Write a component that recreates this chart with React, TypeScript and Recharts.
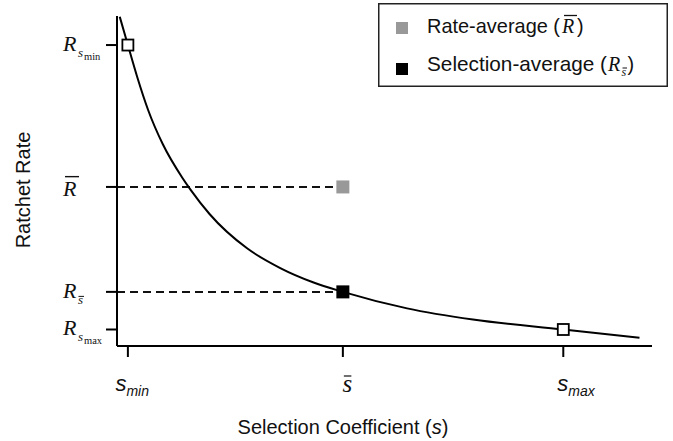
import React from 'react';
import { ComposedChart, Line, Scatter, XAxis, YAxis, ReferenceLine, Legend } from 'recharts';

// Curve: selection coefficient s vs ratchet rate R (arbitrary units)
const curveS = [1.85, 2.0, 2.17, 2.37, 2.64, 3.0, 3.15, 3.5, 4.19, 4.8, 5.4, 5.95, 7.13, 8.34, 10.0, 11.4];
const curveR = [99.8, 91.2, 81.6, 71.6, 61.2, 51.0, 47.4, 40.0, 29.6, 23.6, 19.3, 16.4, 11.4, 8.0, 5.0, 2.5];

// Marker positions: s_min, s̄, s_max
const sMarks = [2.0, 5.95, 10.0];
// R_smin, R̄, R_s̄, R_smax
const rMarks = [91.2, 48.2, 16.4, 5.0];

const xTickValues = [2.0, 5.95, 10.0];
const xTickLabels = ['min', 'bar', 'max'];
const yTickValues = [5.0, 16.4, 48.2, 91.2];
const yTickLabels = ['max', 'sbar', 'bar', 'min'];

const xDomain = [1.8, 11.63];
const yDomain = [0, 100];

const curveData = curveS.map((s, i) => ({ s, R: curveR[i] }));
const openData = [
  { s: sMarks[0], R: rMarks[0] },
  { s: sMarks[2], R: rMarks[3] },
];
const rateAvgData = [{ s: sMarks[1], R: rMarks[1] }];
const selAvgData = [{ s: sMarks[1], R: rMarks[2] }];

const SANS = '"Liberation Sans", Arial, Helvetica, sans-serif';
const SERIF = '"Liberation Serif", "Times New Roman", serif';
const INK = '#111';

const RGlyph = ({ x, y }: any) => (
  <text x={x} y={y} fontFamily={SERIF} fontStyle="italic" fontSize={22} fill={INK}>R</text>
);

const YTick = (props: any) => {
  const { x, y, payload } = props;
  const kind = yTickLabels[yTickValues.indexOf(payload.value)];
  const x0 = x - 41;
  if (kind === 'bar') {
    return (
      <g>
        <RGlyph x={x0} y={y + 9.5} />
        <line x1={x0 + 2} x2={x0 + 16} y1={y - 10.3} y2={y - 10.3} stroke={INK} strokeWidth={1.4} />
      </g>
    );
  }
  if (kind === 'sbar') {
    return (
      <g>
        <RGlyph x={x0} y={y + 6} />
        <text x={x0 + 15} y={y + 12} fontFamily={SERIF} fontStyle="italic" fontSize={13} fill={INK}>s</text>
        <line x1={x0 + 15.5} x2={x0 + 21} y1={y + 4.5} y2={y + 4.5} stroke={INK} strokeWidth={1} />
      </g>
    );
  }
  return (
    <g>
      <RGlyph x={x0} y={y + 5.5} />
      <text x={x0 + 15} y={y + 11.5} fontFamily={SERIF} fontStyle="italic" fontSize={13} fill={INK}>s</text>
      <text x={x0 + 21} y={y + 14.5} fontFamily={SERIF} fontSize={10.5} fill={INK}>{kind}</text>
    </g>
  );
};

const XTick = (props: any) => {
  const { x, y, payload } = props;
  const kind = xTickLabels[xTickValues.indexOf(payload.value)];
  if (kind === 'bar') {
    return (
      <g>
        <text x={x + 4.5} y={y + 33} textAnchor="middle" fontFamily={SERIF} fontStyle="italic" fontSize={25} fill={INK}>s</text>
        <line x1={x + 1} x2={x + 8.5} y1={y + 17} y2={y + 17} stroke={INK} strokeWidth={1.2} />
      </g>
    );
  }
  const dx = kind === 'min' ? -12.5 : -6;
  return (
    <text x={x + dx} y={y + 32} fontFamily={SANS} fontStyle="italic" fontSize={22} fill={INK}>
      s<tspan fontSize={14} dy={5}>{kind}</tspan>
    </text>
  );
};

const XTitle = (p: any) => {
  const vb = p.viewBox || { x: 117, y: 346 };
  return (
    <text x={vb.x + 226} y={vb.y + 88} textAnchor="middle" fontFamily={SANS} fontSize={20} fill={INK}>
      Selection Coefficient (<tspan fontStyle="italic">s</tspan>)
    </text>
  );
};

const YTitle = (p: any) => {
  const vb = p.viewBox || { x: 0, y: 16 };
  const cx = vb.x + 30;
  const cy = vb.y + 174;
  return (
    <text x={cx} y={cy} transform={`rotate(-90, ${cx}, ${cy})`} textAnchor="middle" fontFamily={SANS} fontSize={20} fill={INK}>
      Ratchet Rate
    </text>
  );
};

const LegendBox = () => (
  <svg width={291} height={85} style={{ display: 'block' }}>
    <rect x={0.75} y={0.75} width={288.5} height={82.5} fill="#fff" stroke="#222" strokeWidth={1.5} />
    {/* row 1 */}
    <rect x={18} y={19} width={12} height={12} fill="#999" />
    <text x={49} y={30} fontFamily={SANS} fontSize={19.75} fill={INK} textLength={133} lengthAdjust="spacingAndGlyphs">Rate-average (</text>
    <text x={184} y={30} fontFamily={SERIF} fontStyle="italic" fontSize={20} fill={INK}>R</text>
    <line x1={186} x2={199} y1={12.5} y2={12.5} stroke={INK} strokeWidth={1.3} />
    <text x={199} y={30} fontFamily={SANS} fontSize={19.75} fill={INK}>)</text>
    {/* row 2 */}
    <rect x={18} y={60} width={12} height={12} fill="#000" />
    <text x={49} y={68} fontFamily={SANS} fontSize={19.75} fill={INK} textLength={180} lengthAdjust="spacingAndGlyphs">Selection-average (</text>
    <text x={230} y={68} fontFamily={SERIF} fontStyle="italic" fontSize={20} fill={INK}>R</text>
    <text x={243.5} y={72.5} fontFamily={SERIF} fontStyle="italic" fontSize={12} fill={INK}>s</text>
    <line x1={244.5} x2={249} y1={65} y2={65} stroke={INK} strokeWidth={1} />
    <text x={249.5} y={68} fontFamily={SANS} fontSize={19.75} fill={INK}>)</text>
  </svg>
);

const OpenSquare = (p: any) => (
  <rect x={p.cx - 5.5} y={p.cy - 5.5} width={11} height={11} fill="#fff" stroke="#000" strokeWidth={1.8} />
);
const GraySquare = (p: any) => (
  <rect x={p.cx - 6.5} y={p.cy - 6.5} width={13} height={13} fill="#999" />
);
const BlackSquare = (p: any) => (
  <rect x={p.cx - 6.5} y={p.cy - 6.5} width={13} height={13} fill="#000" />
);

export default function App() {
  return (
    <div style={{ position: 'absolute', left: 0, top: 0, width: 673, height: 441, background: '#fff' }}>
      <ComposedChart width={673} height={441} data={curveData} margin={{ top: 16, right: 21, bottom: 0, left: 0 }}>
        <XAxis
          type="number"
          dataKey="s"
          domain={xDomain}
          allowDataOverflow
          ticks={xTickValues}
          interval={0}
          tickSize={11}
          height={95}
          axisLine={{ stroke: '#000', strokeWidth: 2 }}
          tickLine={{ stroke: '#000', strokeWidth: 2 }}
          tick={<XTick />}
          label={XTitle}
        />
        <YAxis
          type="number"
          dataKey="R"
          domain={yDomain}
          allowDataOverflow
          ticks={yTickValues}
          interval={0}
          tickSize={11}
          width={117}
          axisLine={{ stroke: '#000', strokeWidth: 2 }}
          tickLine={{ stroke: '#000', strokeWidth: 2 }}
          tick={<YTick />}
          label={YTitle}
        />
        <ReferenceLine
          segment={[{ x: xDomain[0], y: rMarks[1] }, { x: sMarks[1], y: rMarks[1] }]}
          stroke="#111"
          strokeWidth={2}
          strokeDasharray="8 5"
          ifOverflow="visible"
        />
        <ReferenceLine
          segment={[{ x: xDomain[0], y: rMarks[2] }, { x: sMarks[1], y: rMarks[2] }]}
          stroke="#111"
          strokeWidth={2}
          strokeDasharray="8 5"
          ifOverflow="visible"
        />
        <Line type="monotone" dataKey="R" stroke="#000" strokeWidth={2} dot={false} activeDot={false} isAnimationActive={false} />
        <Scatter data={openData} dataKey="R" shape={OpenSquare} isAnimationActive={false} />
        <Scatter data={rateAvgData} dataKey="R" shape={GraySquare} isAnimationActive={false} />
        <Scatter data={selAvgData} dataKey="R" shape={BlackSquare} isAnimationActive={false} />
        <Legend
          layout="vertical"
          align="center"
          verticalAlign="middle"
          content={() => <LegendBox />}
          wrapperStyle={{ position: 'absolute', left: 378, top: 3, width: 291, height: 85 }}
        />
      </ComposedChart>
    </div>
  );
}
